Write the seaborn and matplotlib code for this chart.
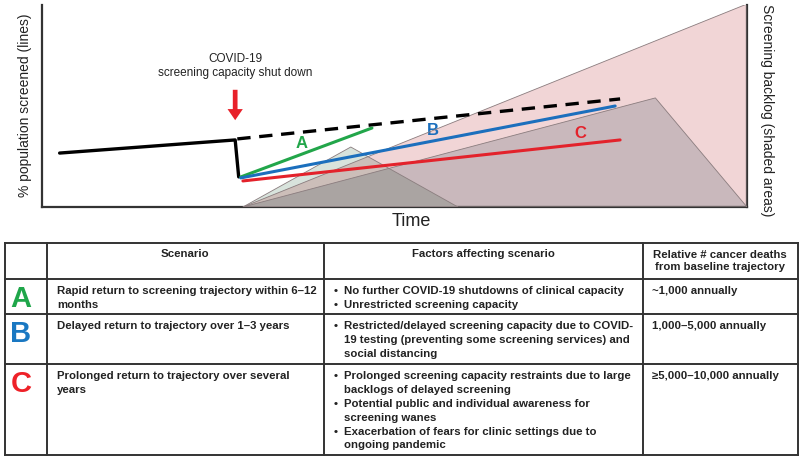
import numpy as np
import matplotlib
matplotlib.use('Agg')
import matplotlib.pyplot as plt
import matplotlib.colors as mcolors
import seaborn as sns

sns.set_theme(style='white')
plt.rcParams['font.family'] = ['Liberation Sans', 'DejaVu Sans']

# screening lines (time 0-100, % screened 0-100)
base_x = [2.5, 27.4, 27.9]
base_y = [26.7, 33.2, 14.9]
traj_x = [27.7, 82.0]
traj_y = [33.7, 53.5]
a_x, a_y = [28.2, 46.8], [14.9, 39.1]
b_x, b_y = [28.2, 81.3], [14.4, 50.0]
c_x, c_y = [28.5, 82.0], [12.9, 33.2]

# backlog triangles
backlog_a_x, backlog_a_y = [28.5, 43.8, 59.0], [0, 29.7, 0]
backlog_b_x, backlog_b_y = [28.5, 87.0, 100], [0, 54.0, 0]
backlog_c_x, backlog_c_y = [28.5, 100, 100], [0, 100.5, 0]

# table content
col_headers = ['Scenario', 'Factors affecting scenario',
               'Relative # cancer deaths\nfrom baseline trajectory']
scenario_ids = ['A', 'B', 'C']
scenario_text = ['Rapid return to screening trajectory within 6\u201312\nmonths',
                 'Delayed return to trajectory over 1\u20133 years',
                 'Prolonged return to trajectory over several\nyears']
factors = [
    [['No further COVID-19 shutdowns of clinical capacity'],
     ['Unrestricted screening capacity']],
    [['Restricted/delayed screening capacity due to COVID-',
      '19 testing (preventing some screening services) and',
      'social distancing']],
    [['Prolonged screening capacity restraints due to large',
      'backlogs of delayed screening'],
     ['Potential public and individual awareness for',
      'screening wanes'],
     ['Exacerbation of fears for clinic settings due to',
      'ongoing pandemic']],
]
deaths = ['~1,000 annually', '1,000\u20135,000 annually', '\u22655,000\u201310,000 annually']

GREEN, BLUE, RED = '#22a64a', '#1b6fbd', '#e3222b'
letter_colors = ['#1fa64a', '#1a78c2', '#ee2128']

PINK = '#f1d5d6'
MAUVE = '#c9b8bc'
PALE = '#d8e3dc'


def multiply(c1, c2):
    r1, r2 = np.array(mcolors.to_rgb(c1)), np.array(mcolors.to_rgb(c2))
    return tuple(r1 * r2)


fig = plt.figure(figsize=(8, 4.59), dpi=100)
ax = fig.add_axes([42 / 800, 1 - 207 / 459, 705 / 800, 202 / 459])
ax.set_xlim(0, 100)
ax.set_ylim(0, 100)

# shaded backlog areas (overlaps mimic multiply blending)
pc = ax.fill(backlog_c_x, backlog_c_y, color=PINK, lw=0, zorder=1)[0]
pb = ax.fill(backlog_b_x, backlog_b_y, color=MAUVE, lw=0, zorder=2)[0]
ax.fill(backlog_a_x, backlog_a_y, color=PALE, lw=0, zorder=3)
pa1 = ax.fill(backlog_a_x, backlog_a_y, color=multiply(PINK, PALE), lw=0, zorder=4)[0]
pa1.set_clip_path(pc)
pa2 = ax.fill(backlog_a_x, backlog_a_y, color=multiply(MAUVE, PALE), lw=0, zorder=5)[0]
pa2.set_clip_path(pb)
for xs, ys in [(backlog_c_x, backlog_c_y), (backlog_b_x, backlog_b_y), (backlog_a_x, backlog_a_y)]:
    ax.fill(xs, ys, fill=False, edgecolor='#8a7c7e', lw=0.6, zorder=6)

# lines
sns.lineplot(x=base_x, y=base_y, ax=ax, color='black', lw=2.4, sort=False,
             estimator=None, zorder=8)
sns.lineplot(x=traj_x, y=traj_y, ax=ax, color='black', lw=2.4, sort=False,
             estimator=None, linestyle=(0, (4, 2.6)), zorder=8)
sns.lineplot(x=a_x, y=a_y, ax=ax, color=GREEN, lw=2.2, estimator=None, zorder=9)
sns.lineplot(x=b_x, y=b_y, ax=ax, color=BLUE, lw=2.2, estimator=None, zorder=10)
sns.lineplot(x=c_x, y=c_y, ax=ax, color=RED, lw=2.2, estimator=None, zorder=11)

ax.text(36.8, 31.2, 'A', color=GREEN, fontsize=12, fontweight='bold', ha='center', va='center')
ax.text(55.5, 38.1, 'B', color=BLUE, fontsize=12, fontweight='bold', ha='center', va='center')
ax.text(76.3, 36.6, 'C', color=RED, fontsize=12, fontweight='bold', ha='center', va='center')

ax.annotate('', xy=(27.4, 41.6), xytext=(27.4, 59.4),
            arrowprops=dict(arrowstyle='simple,head_length=8,head_width=11,tail_width=3.4',
                            mutation_scale=1, color='#e8212a', lw=0))

ax.set_xticks([])
ax.set_yticks([])
ax.set_xlabel('')
ax.set_ylabel('')
for side in ['left', 'bottom', 'right']:
    ax.spines[side].set_visible(True)
    ax.spines[side].set_color('#333333')
    ax.spines[side].set_linewidth(1.6)
ax.spines['top'].set_visible(False)

# overlay in pixel coordinates for labels and the table
ov = fig.add_axes([0, 0, 1, 1], facecolor='none')
ov.set_xlim(0, 800)
ov.set_ylim(459, 0)
ov.axis('off')

ov.text(235, 59, 'COVID-19', fontsize=8.5, ha='center', va='center', color='#222222')
ov.text(235, 73, 'screening capacity shut down', fontsize=8.5, ha='center', va='center', color='#222222')
ov.text(25, 105, '% population screened (lines)', fontsize=10, rotation=90,
        ha='center', va='center', color='#222222')
ov.text(767, 110, 'Screening backlog (shaded areas)', fontsize=10, rotation=-90,
        ha='center', va='center', color='#222222')
ov.text(411, 222, 'Time', fontsize=13, ha='center', va='center', color='#222222')

# table grid
tl, tr = 5, 798
col_x = [tl, 47, 324, 643, tr]
row_y = [243, 279, 314, 364, 455]
for y in row_y:
    ov.plot([tl, tr], [y, y], color='#333333', lw=1.4, solid_capstyle='projecting')
for x in col_x:
    ov.plot([x, x], [row_y[0], row_y[-1]], color='#333333', lw=1.4, solid_capstyle='projecting')

tfs = 8.2
tcol = '#222222'
ov.text(185, 254, col_headers[0], fontsize=tfs, fontweight='bold', ha='center', va='center', color=tcol)
ov.text(483, 254, col_headers[1], fontsize=tfs, fontweight='bold', ha='center', va='center', color=tcol)
ov.text(720, 261, col_headers[2], fontsize=tfs, fontweight='bold', ha='center', va='center',
        color=tcol, linespacing=1.3)

line_h = 13.9
first_y = [291, 326, 376]
letter_y = [299, 334, 384]
for i in range(3):
    ov.text(21, letter_y[i], scenario_ids[i], fontsize=21, fontweight='bold',
            ha='center', va='center', color=letter_colors[i])
    for j, s in enumerate(scenario_text[i].split('\n')):
        ov.text(57, first_y[i] + j * line_h, s, fontsize=tfs, fontweight='bold',
                ha='left', va='center', color=tcol)
    k = 0
    for item in factors[i]:
        ov.text(334, first_y[i] + k * line_h, '\u2022', fontsize=tfs, fontweight='bold',
                ha='left', va='center', color=tcol)
        for s in item:
            ov.text(344, first_y[i] + k * line_h, s, fontsize=tfs, fontweight='bold',
                    ha='left', va='center', color=tcol)
            k += 1
    ov.text(652, first_y[i], deaths[i], fontsize=tfs, fontweight='bold',
            ha='left', va='center', color=tcol)

fig.savefig('out.png', dpi=100)
